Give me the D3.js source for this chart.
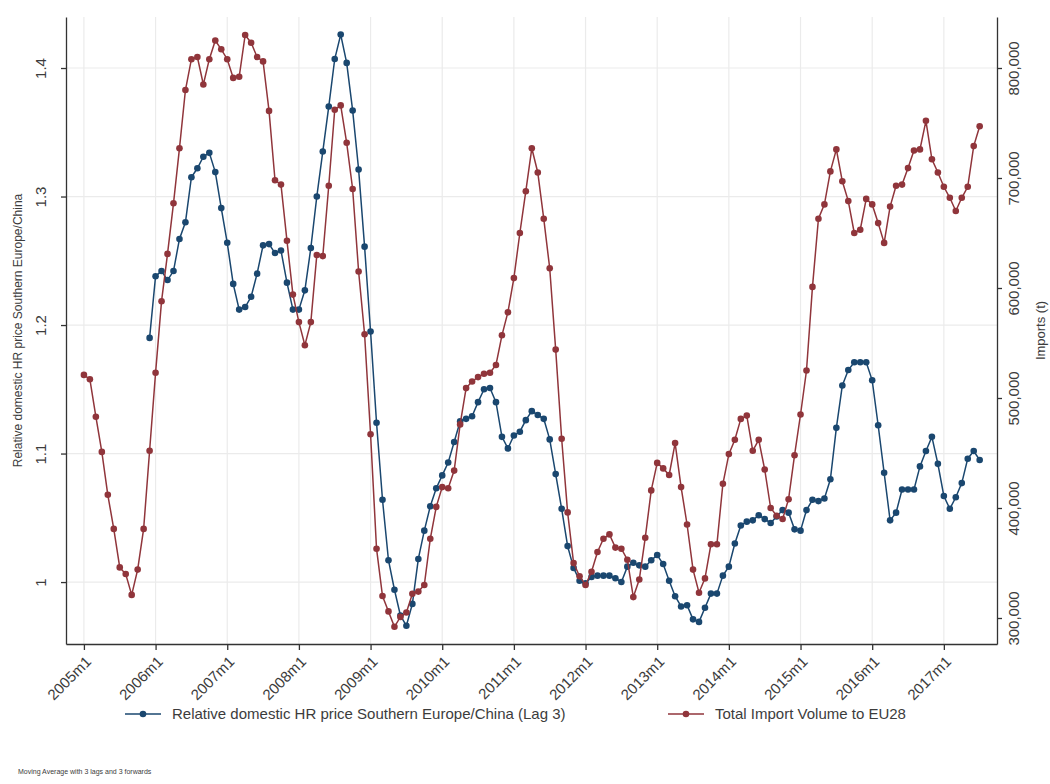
<!DOCTYPE html>
<html>
<head>
<meta charset="utf-8">
<script src="https://cdn.jsdelivr.net/npm/d3@7"></script>
<style>
  body { margin: 0; background: #fff; }
  text { font-family: "Liberation Sans", Arial, sans-serif; fill: #3c3c3c; }
</style>
</head>
<body>
<svg width="1050" height="784"></svg>
<script>
// months counted from 2005m1 (index 0) to 2017m7 (index 150)
const xTickLabels = ['2005m1', '2006m1', '2007m1', '2008m1', '2009m1', '2010m1', '2011m1',
  '2012m1', '2013m1', '2014m1', '2015m1', '2016m1', '2017m1'];
const leftTicks = [1, 1.1, 1.2, 1.3, 1.4];
const rightTicks = [300000, 400000, 500000, 600000, 700000, 800000];

// Relative domestic HR price Southern Europe/China (Lag 3), starts 2005m12
const relPrice = [
  null, null, null, null, null, null, null, null, null, null, null,
  1.190, 1.238, 1.242, 1.235, 1.242, 1.267, 1.280, 1.315, 1.322, 1.331,
  1.334, 1.319, 1.291, 1.264, 1.232, 1.212, 1.214, 1.222, 1.240, 1.262,
  1.263, 1.256, 1.258, 1.233, 1.212, 1.212, 1.227, 1.260, 1.300, 1.335,
  1.370, 1.407, 1.426, 1.404, 1.367, 1.321, 1.261, 1.195, 1.124, 1.064,
  1.017, 0.994, 0.974, 0.966, 0.983, 1.018, 1.040, 1.059, 1.073, 1.083,
  1.093, 1.109, 1.125, 1.127, 1.129, 1.140, 1.150, 1.151, 1.140, 1.113,
  1.104, 1.114, 1.117, 1.126, 1.133, 1.130, 1.127, 1.111, 1.084, 1.057,
  1.028, 1.011, 1.001, 0.999, 1.004, 1.005, 1.005, 1.005, 1.003, 1.000,
  1.012, 1.015, 1.013, 1.012, 1.017, 1.021, 1.014, 1.001, 0.989, 0.981,
  0.982, 0.971, 0.969, 0.980, 0.991, 0.991, 1.005, 1.012, 1.030, 1.044,
  1.047, 1.048, 1.052, 1.049, 1.046, 1.051, 1.056, 1.054, 1.041, 1.040,
  1.056, 1.064, 1.063, 1.065, 1.080, 1.120, 1.153, 1.165, 1.171, 1.171,
  1.171, 1.157, 1.122, 1.085, 1.048, 1.054, 1.072, 1.072, 1.072, 1.090,
  1.102, 1.113, 1.092, 1.067, 1.057, 1.066, 1.077, 1.096, 1.102, 1.095
];

// Total Import Volume to EU28 (t)
const imports = [
  521000, 517000, 483000, 451000, 412000, 381000, 346000, 340000, 321000, 344000,
  381000, 452000, 523000, 588000, 631000, 677000, 727000, 780000, 808000, 810000,
  785000, 808000, 825000, 817000, 808000, 791000, 792000, 830000, 823000, 810000,
  806000, 761000, 698000, 694000, 643000, 594000, 569000, 548000, 569000, 630000,
  629000, 693000, 762000, 766000, 732000, 690000, 615000, 558000, 467000, 363000,
  320000, 306000, 292000, 301000, 305000, 322000, 324000, 330000, 372000, 401000,
  419000, 418000, 434000, 476000, 509000, 515000, 519000, 522000, 523000, 530000,
  557000, 578000, 609000, 650000, 688000, 727000, 705000, 663000, 618000, 544000,
  463000, 396000, 350000, 338000, 330000, 342000, 360000, 372000, 376000, 364000,
  363000, 353000, 319000, 335000, 373000, 416000, 441000, 436000, 430000, 459000,
  419000, 385000, 344000, 323000, 336000, 367000, 367000, 422000, 449000, 462000,
  481000, 484000, 452000, 462000, 435000, 400000, 393000, 390000, 408000, 448000,
  485000, 525000, 601000, 663000, 676000, 706000, 726000, 697000, 679000, 650000,
  653000, 681000, 676000, 659000, 641000, 674000, 693000, 694000, 709000, 725000,
  726000, 752000, 717000, 705000, 692000, 682000, 670000, 682000, 692000, 729000,
  747000
];

const seriesNames = ['Relative domestic HR price Southern Europe/China (Lag 3)', 'Total Import Volume to EU28'];
const colors = { blue: '#1a476f', red: '#90353b' };

const svg = d3.select('svg');
const plot = { l: 66, r: 997, t: 17, b: 644 };

const x = d3.scaleLinear().domain([-3, 152.9]).range([plot.l, plot.r]);
const yL = d3.scaleLinear().domain([0.9518, 1.4397]).range([plot.b, plot.t]);
const yR = d3.scaleLinear().domain([276364, 846364]).range([plot.b, plot.t]);
const xTicks = xTickLabels.map((d, i) => i * 12);

// gridlines
svg.append('g').selectAll('line.hg')
  .data(leftTicks).enter().append('line')
  .attr('x1', plot.l).attr('x2', plot.r)
  .attr('y1', d => yL(d)).attr('y2', d => yL(d))
  .attr('stroke', '#ebebeb').attr('stroke-width', 1.2);
svg.append('g').selectAll('line.vg')
  .data(xTicks).enter().append('line')
  .attr('x1', d => x(d)).attr('x2', d => x(d))
  .attr('y1', plot.t).attr('y2', plot.b)
  .attr('stroke', '#ebebeb').attr('stroke-width', 1.2);

// axes
const axL = svg.append('g').attr('transform', `translate(${plot.l},0)`)
  .call(d3.axisLeft(yL).tickValues(leftTicks).tickSize(5).tickSizeOuter(0).tickFormat(d => String(d)));
axL.selectAll('text')
  .attr('transform', 'rotate(-90)')
  .attr('x', 0).attr('y', -20).attr('dy', 0)
  .attr('text-anchor', 'middle').style('font-size', '15px');

const axR = svg.append('g').attr('transform', `translate(${plot.r},0)`)
  .call(d3.axisRight(yR).tickValues(rightTicks).tickSize(5).tickSizeOuter(0).tickFormat(d3.format(',')));
axR.selectAll('text')
  .attr('transform', 'rotate(-90)')
  .attr('x', 0).attr('y', 22).attr('dy', 0)
  .attr('text-anchor', 'middle').style('font-size', '15px');

const axB = svg.append('g').attr('transform', `translate(0,${plot.b})`)
  .call(d3.axisBottom(x).tickValues(xTicks).tickSize(6).tickSizeOuter(0).tickFormat((d, i) => xTickLabels[i]));
axB.selectAll('text')
  .attr('transform', 'translate(4,15) rotate(-45)')
  .attr('x', 0).attr('y', 0).attr('dy', '0.35em')
  .attr('text-anchor', 'end').style('font-size', '15px');

svg.selectAll('.domain').attr('stroke', '#333').attr('stroke-width', 1.3);
svg.selectAll('.tick line').attr('stroke', '#333').attr('stroke-width', 1.3);

// axis titles
svg.append('text')
  .attr('transform', `translate(22,${(plot.t + plot.b) / 2}) rotate(-90)`)
  .attr('text-anchor', 'middle').style('font-size', '12px')
  .text('Relative domestic HR price Southern Europe/China');
svg.append('text')
  .attr('transform', `translate(1045,${(plot.t + plot.b) / 2}) rotate(-90)`)
  .attr('text-anchor', 'middle').style('font-size', '13px')
  .text('Imports (t)');

// series
const blueData = relPrice.map((v, i) => ({ i, v })).filter(d => d.v !== null);
const redData = imports.map((v, i) => ({ i, v }));

svg.append('path').datum(blueData)
  .attr('fill', 'none').attr('stroke', colors.blue).attr('stroke-width', 1.5)
  .attr('d', d3.line().x(d => x(d.i)).y(d => yL(d.v)));
svg.append('g').selectAll('circle').data(blueData).enter().append('circle')
  .attr('cx', d => x(d.i)).attr('cy', d => yL(d.v)).attr('r', 3.3)
  .attr('fill', colors.blue);

svg.append('path').datum(redData)
  .attr('fill', 'none').attr('stroke', colors.red).attr('stroke-width', 1.5)
  .attr('d', d3.line().x(d => x(d.i)).y(d => yR(d.v)));
svg.append('g').selectAll('circle').data(redData).enter().append('circle')
  .attr('cx', d => x(d.i)).attr('cy', d => yR(d.v)).attr('r', 3.3)
  .attr('fill', colors.red);

// legend
const legend = [
  { name: seriesNames[0], color: colors.blue, x: 125 },
  { name: seriesNames[1], color: colors.red, x: 668 }
];
const lg = svg.append('g').attr('transform', 'translate(0,714)');
legend.forEach(d => {
  lg.append('line').attr('x1', d.x).attr('x2', d.x + 36).attr('y1', 0).attr('y2', 0)
    .attr('stroke', d.color).attr('stroke-width', 1.5);
  lg.append('circle').attr('cx', d.x + 18).attr('cy', 0).attr('r', 3.3).attr('fill', d.color);
  lg.append('text').attr('x', d.x + 47).attr('y', 5).style('font-size', '15px').text(d.name);
});

// note
svg.append('text').attr('x', 18).attr('y', 774).style('font-size', '7px')
  .text('Moving Average with 3 lags and 3 forwards');
</script>
</body>
</html>
